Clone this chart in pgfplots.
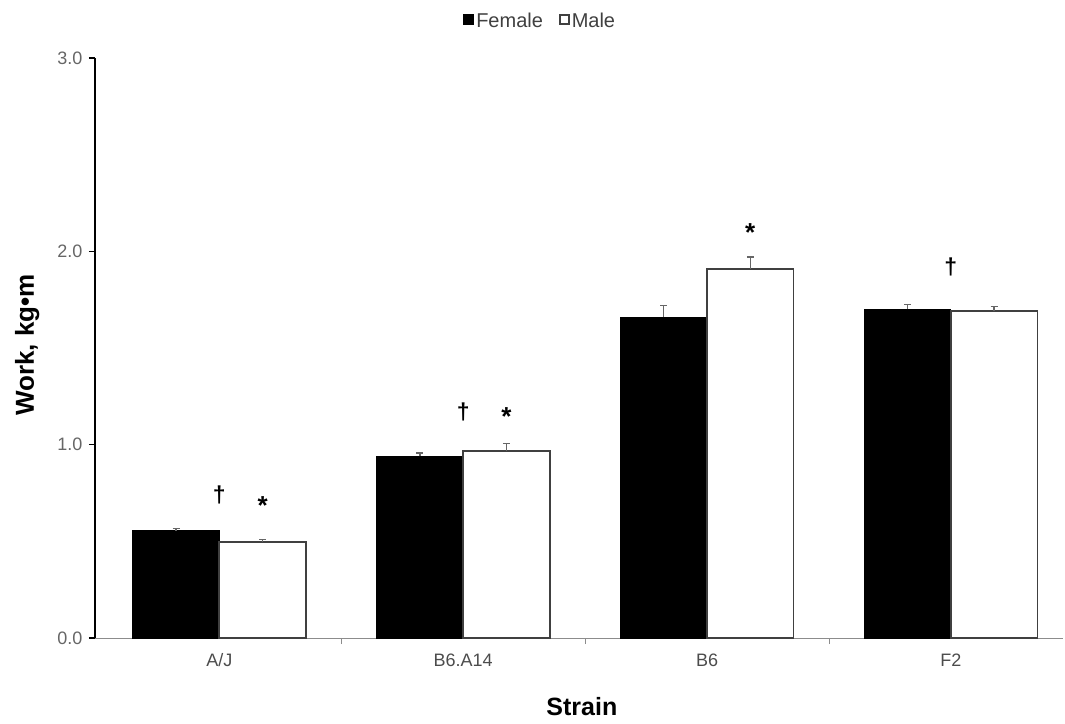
\documentclass[border=0pt]{standalone}
\usepackage{fontspec}
\setmainfont{Liberation Sans}
\usepackage{pgfplots}
\pgfplotsset{compat=1.18}
\begin{document}
\begin{tikzpicture}
\begin{axis}[
  scale only axis,
  width=968pt, height=580pt,
  xmin=-0.51, xmax=3.46,
  ymin=0, ymax=3,
  ybar=0pt,
  bar width=0.355,
  axis x line*=bottom,
  axis y line*=left,
  x axis line style={black!45, line width=0.8pt},
  y axis line style={black, line width=1.6pt},
  xtick={0.5,1.5,2.5},
  xticklabels={},
  x tick style={draw=black!45, line width=0.8pt},
  extra x ticks={0,1,2,3},
  extra x tick labels={A/J,B6.A14,B6,F2},
  extra x tick style={major tick length=0pt, tick style={draw=none}},
  ytick={0,1,2,3},
  y tick style={black, line width=1.2pt},
  major tick length=6pt,
  tick align=outside,
  yticklabel style={/pgf/number format/.cd, fixed, fixed zerofill, precision=1, /tikz/.cd, font=\fontsize{18}{20}\selectfont, text=black!60, xshift=-3pt},
  /pgf/number format/assume math mode=true,
  xticklabel style={font=\fontsize{18}{20}\selectfont, text=black!70, yshift=-12pt},
  ylabel={\textbf{Work, kg•m}},
  ylabel style={font=\fontsize{26}{28}\selectfont, at={(axis description cs:-0.070,0.505)}, anchor=center, rotate=0},
  xlabel={\textbf{Strain}},
  xlabel style={font=\fontsize{25}{28}\selectfont, at={(axis description cs:0.503,-0.119)}, anchor=center},
  legend style={draw=none, fill=none, legend columns=-1, at={(axis description cs:0.46,1.064)}, anchor=center, font=\fontsize{20}{22}\selectfont, text=black!75, /tikz/every even column/.append style={column sep=14pt}},
  legend image code/.code={\draw[#1, line width=1.8pt] (0pt,-3pt) rectangle (9pt,6pt);},
  error bars/y dir=plus,
  error bars/y explicit,
  error bars/error bar style={black!60, line width=1.3pt},
  error bars/error mark options={black!60, line width=1.3pt, mark size=3.5pt, rotate=90},
]
\addplot[fill=black, draw=black, line width=1pt] coordinates {
  (0,0.554) +- (0,0.012)
  (1,0.940) +- (0,0.017)
  (2,1.660) +- (0,0.060)
  (3,1.700) +- (0,0.025)
};
\addplot[fill=white, draw=black!75, line width=1.8pt] coordinates {
  (0,0.497) +- (0,0.012)
  (1,0.969) +- (0,0.036)
  (2,1.910) +- (0,0.060)
  (3,1.690) +- (0,0.025)
};
\legend{Female,Male}
\node[font=\bfseries\fontsize{23}{25}\selectfont] at (axis cs:0,0.74) {†};
\node[font=\bfseries\fontsize{23}{25}\selectfont] at (axis cs:1,1.17) {†};
\node[font=\bfseries\fontsize{23}{25}\selectfont] at (axis cs:3,1.92) {†};
\node[font=\bfseries\fontsize{26}{28}\selectfont] at (axis cs:0.1775,0.685) {*};
\node[font=\bfseries\fontsize{26}{28}\selectfont] at (axis cs:1.1775,1.145) {*};
\node[font=\bfseries\fontsize{26}{28}\selectfont] at (axis cs:2.1775,2.095) {*};
\end{axis}
\pgfresetboundingbox
\path (-95pt,-85pt) rectangle (970pt,638pt);
\end{tikzpicture}
\end{document}
